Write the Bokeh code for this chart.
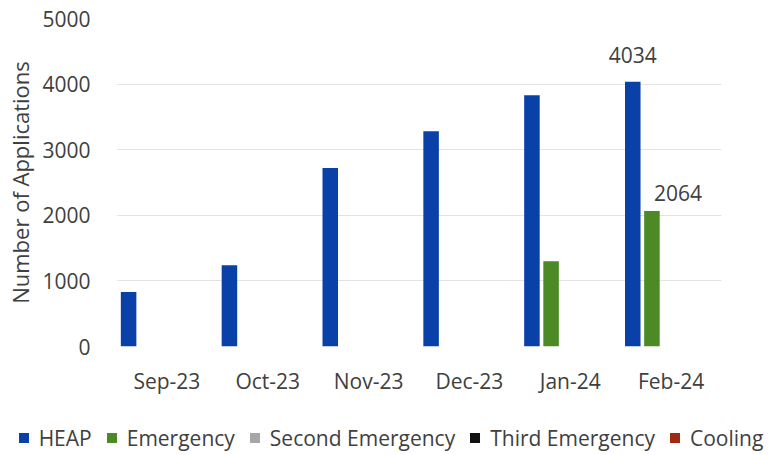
from bokeh.plotting import figure
from bokeh.layouts import column
from bokeh.models import ColumnDataSource, FactorRange, Range1d, Label, Div
from bokeh.transform import dodge
from bokeh.embed import file_html
from bokeh.resources import INLINE

months = ["Sep-23", "Oct-23", "Nov-23", "Dec-23", "Jan-24", "Feb-24"]
heap = [830, 1240, 2720, 3283, 3830, 4034]
emergency = [0, 0, 0, 0, 1300, 2064]
second_emergency = [0, 0, 0, 0, 0, 0]
third_emergency = [0, 0, 0, 0, 0, 0]
cooling = [0, 0, 0, 0, 0, 0]
series_names = ["HEAP", "Emergency", "Second Emergency", "Third Emergency", "Cooling"]
colors = ["#0a41a8", "#4b8a25", "#a6a6a6", "#111111", "#a02a10"]
y_ticks = [0, 1000, 2000, 3000, 4000, 5000]

src = ColumnDataSource(dict(month=months, heap=heap, emergency=emergency,
                            second=second_emergency, third=third_emergency, cooling=cooling))
cols = ["heap", "emergency", "second", "third", "cooling"]

FONT = "Open Sans"
TXT = "#404040"
FS = "21px"

p = figure(x_range=FactorRange(*months, range_padding=0), y_range=Range1d(0, 5000),
           frame_width=605, frame_height=328, output_backend="svg", toolbar_location=None,
           min_border_left=116, min_border_right=43, min_border_top=18, min_border_bottom=79)
p.outline_line_color = None

offsets = [-0.38, -0.19, 0.0, 0.19, 0.38]
for col, c, off in zip(cols, colors, offsets):
    p.vbar(x=dodge("month", off, range=p.x_range), top=col, width=0.154, source=src,
           fill_color=c, line_color=None)

p.xgrid.grid_line_color = None
p.ygrid.grid_line_color = "#e3e3e3"
p.ygrid.grid_line_width = 1
p.yaxis.ticker = y_ticks
for ax in (p.xaxis[0], p.yaxis[0]):
    ax.axis_line_color = None
    ax.major_tick_line_color = None
    ax.minor_tick_line_color = None
    ax.major_label_text_font = FONT
    ax.major_label_text_font_size = FS
    ax.major_label_text_color = TXT
p.xaxis.major_label_standoff = 14
p.yaxis.major_label_standoff = 20
p.yaxis.axis_label = "Number of Applications"
p.yaxis.axis_label_text_font = FONT
p.yaxis.axis_label_text_font_size = "22px"
p.yaxis.axis_label_text_font_style = "normal"
p.yaxis.axis_label_text_color = TXT
p.yaxis.axis_label_standoff = 4

p.add_layout(Label(x=5.5 + offsets[0], y=heap[5], text=str(heap[5]),
                   text_align="center", text_baseline="middle", y_offset=27,
                   text_font=FONT, text_font_size=FS, text_color=TXT))
p.add_layout(Label(x=5.5 + offsets[1], y=emergency[5], text=str(emergency[5]),
                   text_align="center", text_baseline="middle", x_offset=26, y_offset=18,
                   text_font=FONT, text_font_size=FS, text_color=TXT))

# legend row underneath the chart
item_html = "".join(
    f'<span style="display:inline-flex;align-items:center;gap:10px;">'
    f'<span style="display:inline-block;width:10px;height:10px;background:{c};"></span>'
    f'{name}</span>'
    for name, c in zip(series_names, colors))
legend_div = Div(
    text=(f'<div style="display:flex;justify-content:center;align-items:center;gap:15px;'
          f'box-sizing:border-box;padding-left:18px;'
          f'width:764px;height:26px;white-space:nowrap;font-family:\'{FONT}\';'
          f'font-size:{FS};color:{TXT};">{item_html}</div>'),
    width=764, height=26, margin=0)

open("out.html", "w").write(file_html(column(p, legend_div, spacing=0), INLINE))
